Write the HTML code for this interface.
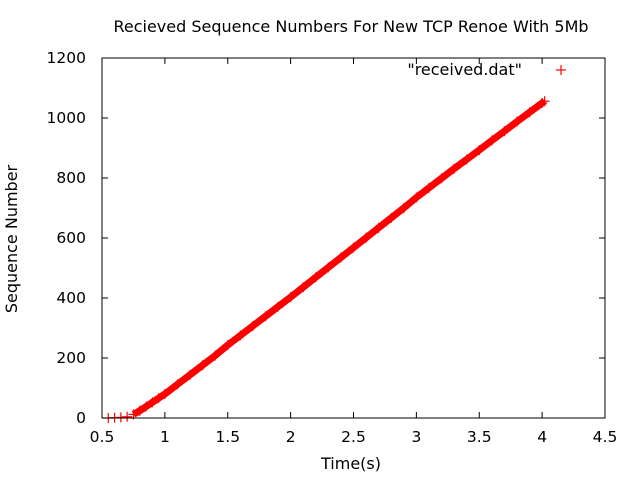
<!DOCTYPE html>
<html><head><meta charset="utf-8"><style>
body{margin:0;background:#fff}
svg{display:block;font-family:"DejaVu Sans","Liberation Sans",sans-serif}
</style></head><body>
<svg id="chart" width="640" height="480" viewBox="0 0 640 480">
<rect width="640" height="480" fill="#fff"/>
<text x="351" y="32" font-size="16" text-anchor="middle" fill="#000">Recieved Sequence Numbers For New TCP Renoe With 5Mb</text>
<text x="17" y="239" font-size="16" text-anchor="middle" transform="rotate(-90 17 239)">Sequence Number</text>
<text x="351" y="469" font-size="16" text-anchor="middle">Time(s)</text>
<g id="axes"></g>
<g id="series"></g>
<rect x="102" y="58" width="503" height="360" fill="none" stroke="#000" stroke-width="1"/>
<text x="522" y="75" font-size="16" text-anchor="end">"received.dat"</text>
<g stroke="#f00" stroke-width="1.2"><line x1="556" y1="70" x2="566" y2="70"/><line x1="561" y1="65" x2="561" y2="75"/></g>
</svg>
<script>
const xTicks=[0.5,1,1.5,2,2.5,3,3.5,4,4.5];
const yTicks=[0,200,400,600,800,1000,1200];
const times=[0.55,0.6,0.65,0.7,0.75,0.8,0.85,0.9,0.95,1.0,1.1,1.2,1.3,1.4,1.5,1.6,1.7,1.8,1.9,2.0,2.1,2.2,2.3,2.4,2.5,2.6,2.7,2.8,2.9,3.0,3.1,3.2,3.3,3.4,3.5,3.6,3.7,3.8,3.9,4.0,4.02];
const seqs=[0,1,2,4,12,24,38,52,66,80,112,144,176,208,243,275,307,339,371,403,436,469,502,535,568,601,634,667,700,735,767,799,831,862,893,925,956,988,1019,1050,1056];
const X0=102,X1=605,Y0=418,Y1=58;
const sx=v=>X0+(v-0.5)/4*(X1-X0);
const sy=v=>Y0-v/1200*(Y0-Y1);
const NS="http://www.w3.org/2000/svg";
const ax=document.getElementById('axes');
function mk(tag,attrs,parent){const e=document.createElementNS(NS,tag);for(const k in attrs)e.setAttribute(k,attrs[k]);parent.appendChild(e);return e;}
xTicks.forEach(t=>{
 const x=sx(t);
 const g=mk('g',{},ax);
 
 
 mk('line',{x1:x,y1:Y0,x2:x,y2:Y0-6,stroke:'#000'},g);
 mk('line',{x1:x,y1:Y1,x2:x,y2:Y1+6,stroke:'#000'},g);
 const tx=mk('text',{x:x,y:442,'font-size':15.5,'text-anchor':'middle'},g);tx.textContent=t;
});
yTicks.forEach(t=>{
 const y=sy(t);
 const g=mk('g',{},ax);
 
 
 mk('line',{x1:X0,y1:y,x2:X0+6,y2:y,stroke:'#000'},g);
 mk('line',{x1:X1,y1:y,x2:X1-6,y2:y,stroke:'#000'},g);
 const tx=mk('text',{x:86,y:y+5,'font-size':15.5,'text-anchor':'end'},g);tx.textContent=t;
});
const se=document.getElementById('series');
const pts=[];
times.forEach((t,i)=>{if(t>=0.75)pts.push(sx(t)+','+sy(seqs[i]));});
const band=mk('polyline',{points:pts.join(' '),fill:'none',stroke:'#f00','stroke-width':7,'stroke-linejoin':'round'},se);


times.forEach((t,i)=>{
 const x=sx(t),y=sy(seqs[i]);
 const g=mk('g',{stroke:'#f00','stroke-width':1.2},se);
 
 
 mk('line',{x1:x-5,y1:y,x2:x+5,y2:y},g);
 mk('line',{x1:x,y1:y-5,x2:x,y2:y+5},g);
});
</script>
</body></html>
